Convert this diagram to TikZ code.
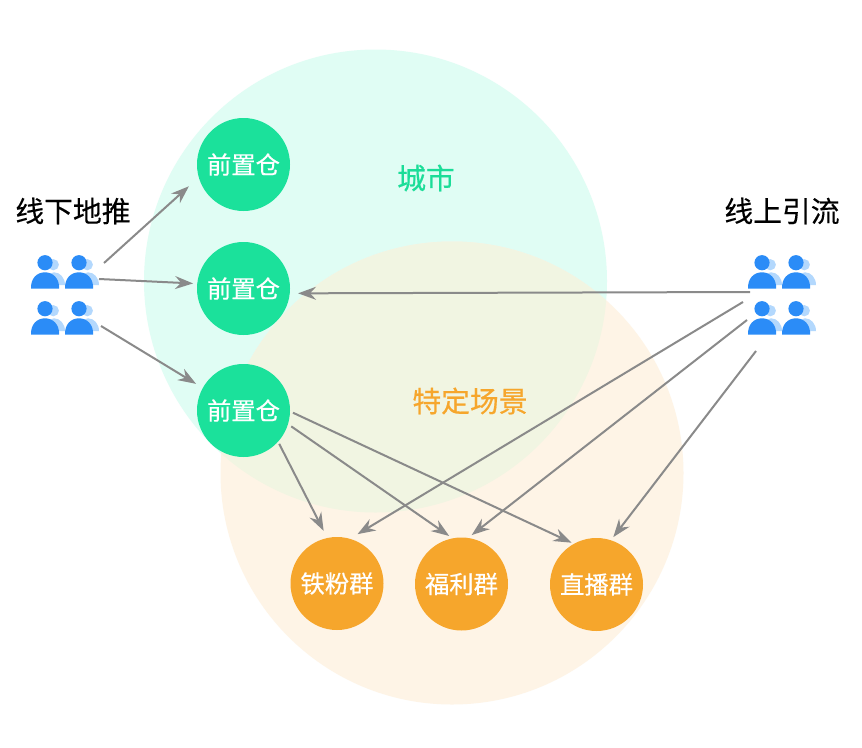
\documentclass[tikz,border=0pt]{standalone}
\usepackage{fontspec}
\setmainfont{Noto Sans CJK SC}
\newfontfamily\medcjk[FakeBold=0.5]{Noto Sans CJK SC}
\newfontfamily\semicjk[FakeBold=0.25]{Noto Sans CJK SC}
\usetikzlibrary{arrows.meta}
\definecolor{cgreen}{HTML}{1BE19B}
\definecolor{cgreentxt}{HTML}{1BDD98}
\definecolor{cgreenbg}{HTML}{E0FDF4}
\definecolor{corange}{HTML}{F6A62C}
\definecolor{corangebg}{HTML}{FEF4E6}
\definecolor{coverlap}{HTML}{F1F5E2}
\definecolor{cblue}{HTML}{2B8CF7}
\definecolor{cbluebg}{HTML}{B3D8FD}
\definecolor{cgrayline}{HTML}{8A8A8A}
\tikzset{
  x=1pt,y=-1pt,
  hub/.style={circle,fill=cgreen,text=white,minimum size=93pt,inner sep=0pt,outer sep=0pt,font=\medcjk\fontsize{24.3}{25}\selectfont},
  grp/.style={circle,fill=corange,text=white,minimum size=93pt,inner sep=0pt,outer sep=0pt,font=\medcjk\fontsize{24.3}{25}\selectfont},
  heading/.style={text=black,inner sep=0pt,font=\semicjk\fontsize{28.8}{30}\selectfont},
  zonelabel/.style={inner sep=0pt,font=\medcjk\fontsize{28.8}{30}\selectfont},
  flow/.style={draw=cgrayline,line width=2pt,-{Stealth[length=18pt,width=13pt,inset=6pt]}},
  person/.pic={
    \fill[cbluebg] (8.3,2) circle[radius=5.6];
    \fill[cbluebg] (0,22.5) .. controls (2,14) and (6,9.6) .. (9,9.6)
      .. controls (15,9.6) and (20,15) .. (20,22.5) -- (20,22.5) -- (0,22.5) -- cycle;
    \fill[cblue] (0,0) circle[radius=7.6];
    \fill[cblue] (-14,26) .. controls (-14.4,15.5) and (-8,9.6) .. (0,9.6)
      .. controls (8,9.6) and (14.4,15.5) .. (14.2,26)
      .. controls (14.2,26) and (-14,26) .. (-14,26) -- cycle;
  }
}
\begin{document}
\begin{tikzpicture}
\useasboundingbox (0,0) rectangle (862,747);
\fill[white] (0,0) rectangle (862,747);
% zones
\fill[cgreenbg] (375.5,281) circle[radius=231.5];
\fill[corangebg] (452,473) circle[radius=231.5];
\begin{scope}
  \clip (375.5,281) circle[radius=231.5];
  \fill[coverlap] (452,473) circle[radius=231.5];
\end{scope}
% labels
\node[zonelabel,text=cgreentxt] (city) at (426,178) {城市};
\node[zonelabel,text=corange] (scene) at (470,401) {特定场景};
\node[heading] (offline) at (73,211) {线下地推};
\node[heading] (online) at (782,211) {线上引流};
% hubs
\node[hub] (hubA) at (243.5,164.5) {前置仓};
\node[hub] (hubB) at (243.5,288.5) {前置仓};
\node[hub] (hubC) at (243.5,410.5) {前置仓};
% groups
\node[grp] (iron) at (337,583.5) {铁粉群};
\node[grp] (perk) at (461.5,584) {福利群};
\node[grp] (live) at (596.5,584.5) {直播群};
% people
\foreach \px in {45,79,762,796}
  \foreach \py in {262.7,308.7}
    \pic at (\px,\py) {person};
% free ends at the people icons
\coordinate (la) at (104,263);
\coordinate (lb) at (99,279);
\coordinate (lc) at (101,326);
\coordinate (rb) at (750,292);
\coordinate (re) at (743,302);
\coordinate (rf) at (747,320);
\coordinate (rg) at (756,351);
% connectors
\draw[flow,shorten >=13.4pt] (la) -- (hubA.196.9);
\draw[flow,shorten >=4.2pt] (lb) -- (hubB.174.7);
\draw[flow,shorten >=7.9pt] (lc) -- (hubC.151.2);
\draw[flow,shorten >=8.3pt] (rb) -- (hubB.-6.8);
\draw[flow,shorten >=9pt] (re) -- (iron.74.7);
\draw[flow,shorten >=4.7pt] (rf) -- (perk.82.8);
\draw[flow,shorten >=4pt] (rg) -- (live.72.3);
\draw[flow,shorten <=2.45pt,shorten >=8.1pt] (hubC.-42.3) -- (iron.102.8);
\draw[flow,shorten <=3.94pt,shorten >=4.2pt] (hubC.-17.9) -- (perk.101.2);
\draw[flow,shorten <=3.3pt,shorten >=2.7pt] (hubC.-1.4) -- (live.119.8);
\end{tikzpicture}
\end{document}
